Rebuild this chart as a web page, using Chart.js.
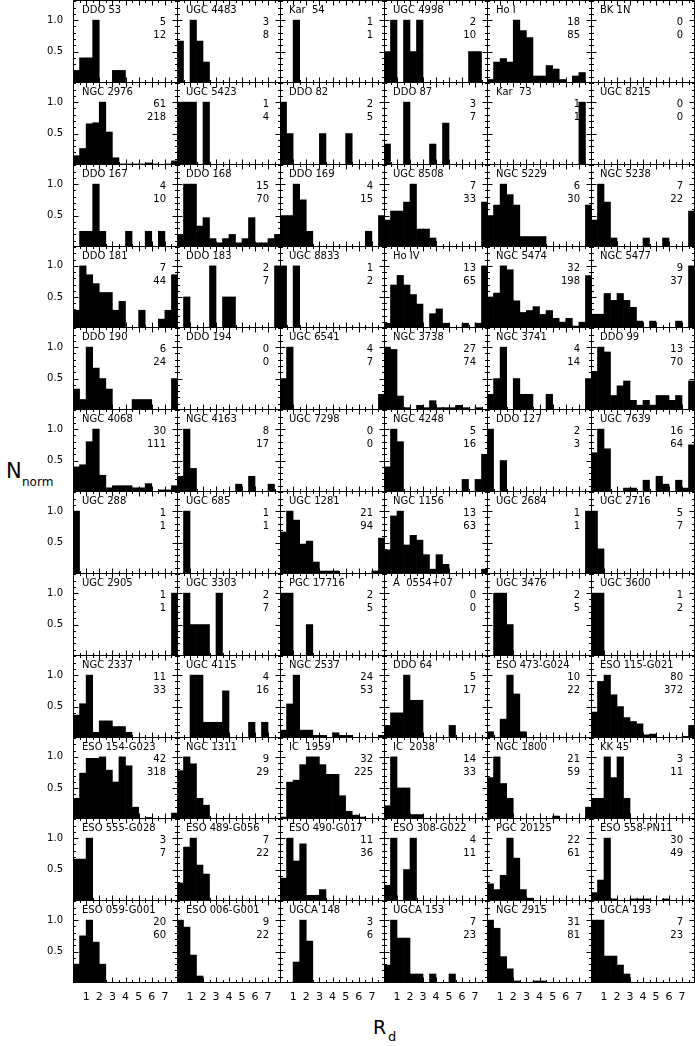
<!DOCTYPE html>
<html><head><meta charset="utf-8">
<script src="https://cdn.jsdelivr.net/npm/chart.js@4.4.1/dist/chart.umd.min.js"></script>
<style>
html,body{margin:0;padding:0;background:#fff;}
#wrap{position:relative;width:695px;height:1046px;overflow:hidden;background:#fff}
#wrap canvas{position:absolute}
.t{position:absolute;font-family:"DejaVu Sans",sans-serif;color:#000;white-space:pre;line-height:1}
</style></head>
<body><div id="wrap">
<div class="t" style="left:6px;top:461px;font-size:21px">N</div>
<div class="t" style="left:22px;top:476px;font-size:12px">norm</div>
<div class="t" style="left:373px;top:1018px;font-size:19px">R</div>
<div class="t" style="left:388px;top:1030px;font-size:13px">d</div>
</div>
<script>
// ---------------- data ----------------
const galaxyNames = [
 "DDO 53","UGC 4483","Kar  54","UGC 4998","Ho I","BK 1N",
 "NGC 2976","UGC 5423","DDO 82","DDO 87","Kar  73","UGC 8215",
 "DDO 167","DDO 168","DDO 169","UGC 8508","NGC 5229","NGC 5238",
 "DDO 181","DDO 183","UGC 8833","Ho IV","NGC 5474","NGC 5477",
 "DDO 190","DDO 194","UGC 6541","NGC 3738","NGC 3741","DDO 99",
 "NGC 4068","NGC 4163","UGC 7298","NGC 4248","DDO 127","UGC 7639",
 "UGC 288","UGC 685","UGC 1281","NGC 1156","UGC 2684","UGC 2716",
 "UGC 2905","UGC 3303","PGC 17716","A  0554+07","UGC 3476","UGC 3600",
 "NGC 2337","UGC 4115","NGC 2537","DDO 64","ESO 473-G024","ESO 115-G021",
 "ESO 154-G023","NGC 1311","IC  1959","IC  2038","NGC 1800","KK 45",
 "ESO 555-G028","ESO 489-G056","ESO 490-G017","ESO 308-G022","PGC 20125","ESO 558-PN11",
 "ESO 059-G001","ESO 006-G001","UGCA 148","UGCA 153","NGC 2915","UGCA 193"
];
const peakCounts = [
 5,3,1,2,18,0,
 61,1,2,3,1,0,
 4,15,4,7,6,7,
 7,2,1,13,32,9,
 6,0,4,27,4,13,
 30,8,0,5,2,16,
 1,1,21,13,1,5,
 1,2,2,0,2,1,
 11,4,24,5,10,80,
 42,9,32,14,21,3,
 3,7,11,4,22,30,
 20,9,3,7,31,7
];
const totalCounts = [
 12,8,1,10,85,0,
 218,4,5,7,1,0,
 10,70,15,33,30,22,
 44,7,2,65,198,37,
 24,0,7,74,14,70,
 111,17,0,16,3,64,
 1,1,94,63,1,7,
 1,7,5,0,5,2,
 33,16,53,17,22,372,
 318,29,225,33,59,11,
 7,22,36,11,61,49,
 60,22,6,23,81,23
];
const binCounts = [
 [1,2,2,5,0,0,1,1,0,0,0,0,0,0,0,0],
 [2,0,3,2,1,0,0,0,0,0,0,0,0,0,0,0],
 [0,0,1,0,0,0,0,0,0,0,0,0,0,0,0,0],
 [1,2,0,2,1,2,0,0,0,0,0,0,0,1,1,0],
 [1,6,7,6,18,15,13,2,2,5,4,1,0,2,3,0],
 [0,0,0,0,0,0,0,0,0,0,0,0,0,0,0,0],

 [9,16,40,41,61,32,7,1,1,1,1,2,1,0,1,4],
 [1,1,1,0,1,0,0,0,0,0,0,0,0,0,0,0],
 [2,1,0,0,0,0,1,0,0,0,1,0,0,0,0,0],
 [1,0,0,3,0,0,0,1,0,2,0,0,0,0,0,0],
 [0,0,0,0,0,0,0,0,0,0,0,0,0,0,1,0],
 [0,0,0,0,0,0,0,0,0,0,0,0,0,0,0,0],

 [0,1,1,4,1,0,0,0,1,0,0,1,0,1,0,0],
 [3,15,15,5,7,2,1,2,3,1,2,7,1,1,2,3],
 [2,2,4,3,1,0,0,0,0,0,0,0,0,1,0,2],
 [3,4,4,5,7,2,2,1,0,0,0,0,0,0,0,5],
 [3,4,6,5,4,1,1,1,1,0,0,0,0,0,0,4],
 [3,7,5,1,0,0,0,0,1,0,0,1,0,0,0,4],

 [2,7,6,5,4,4,2,3,0,0,2,0,0,1,2,6],
 [0,1,0,0,0,2,0,1,1,0,0,0,0,0,0,2],
 [1,0,1,0,0,0,0,0,0,0,0,0,0,0,0,0],
 [1,9,11,9,7,5,0,3,4,1,0,0,1,0,1,13],
 [16,18,32,30,14,8,9,11,7,9,5,3,5,1,3,27],
 [2,2,5,4,5,4,3,1,0,1,0,0,0,1,0,9],

 [2,1,6,4,3,2,0,0,0,1,1,1,0,0,0,3],
 [0,0,0,0,0,0,0,0,0,0,0,0,0,0,0,0],
 [2,4,0,0,0,0,0,0,0,0,0,0,0,0,0,1],
 [27,26,6,1,0,2,1,4,1,1,1,2,1,0,1,0],
 [1,2,4,0,2,1,1,0,0,1,0,0,0,0,0,2],
 [8,13,12,3,5,6,2,1,2,1,3,3,2,3,0,6],

 [12,13,24,30,8,2,3,3,3,2,2,4,0,1,1,3],
 [2,8,3,0,0,0,0,0,0,1,0,2,0,0,1,0],
 [0,0,0,0,0,0,0,0,0,0,0,0,0,0,0,0],
 [2,5,4,0,0,0,0,0,0,0,0,0,1,0,1,3],
 [2,0,1,0,0,0,0,0,0,0,0,0,0,0,0,0],
 [10,16,11,0,0,1,1,0,3,0,4,2,0,3,1,12],

 [1,0,0,0,0,0,0,0,0,0,0,0,0,0,0,0],
 [0,1,0,0,0,0,0,0,0,0,0,0,0,0,0,0],
 [14,21,18,10,11,4,1,1,1,0,0,0,0,0,1,12],
 [5,12,13,6,8,7,4,1,4,2,0,0,0,0,0,1],
 [0,0,0,0,0,0,0,0,0,0,0,0,0,0,0,1],
 [5,2,0,0,0,0,0,0,0,0,0,0,0,0,0,0],

 [0,0,0,0,0,0,0,0,0,0,0,0,0,0,0,1],
 [0,2,1,1,1,0,2,0,0,0,0,0,0,0,0,0],
 [2,2,0,0,1,0,0,0,0,0,0,0,0,0,0,0],
 [0,0,0,0,0,0,0,0,0,0,0,0,0,0,0,0],
 [0,2,2,1,0,0,0,0,0,0,0,0,0,0,0,0],
 [1,1,0,0,0,0,0,0,0,0,0,0,0,0,0,0],

 [4,6,11,1,3,3,2,2,1,0,0,0,0,0,0,0],
 [0,0,4,4,1,1,1,3,0,0,0,1,0,1,0,0],
 [3,13,24,3,3,1,1,0,2,1,1,0,0,0,0,1],
 [1,2,2,5,3,3,0,0,0,0,1,0,0,0,0,0],
 [1,0,3,10,7,1,0,0,0,0,0,0,0,0,0,0],
 [33,72,80,55,40,26,21,18,4,5,0,0,0,0,2,16],

 [14,31,41,41,42,33,25,42,36,8,0,1,0,0,0,4],
 [7,9,8,3,2,0,0,0,0,0,0,0,0,0,0,0],
 [1,19,20,28,32,32,28,23,23,12,4,2,1,0,0,0],
 [3,14,7,7,1,1,0,0,0,0,0,0,0,0,0,0],
 [14,21,12,7,0,0,0,0,0,0,1,0,0,0,0,4],
 [1,1,3,2,3,1,0,0,0,0,0,0,0,0,0,0],

 [2,2,3,0,0,0,0,0,0,0,0,0,0,0,0,0],
 [2,6,7,4,3,0,0,0,0,0,0,0,0,0,0,0],
 [4,11,7,10,1,1,2,0,0,0,0,0,0,0,0,0],
 [1,4,0,2,4,0,0,0,0,0,0,0,0,0,0,0],
 [6,4,9,22,15,4,1,0,0,0,0,0,0,0,0,0],
 [4,10,30,1,0,0,1,1,1,0,0,1,0,0,0,0],

 [6,15,20,13,6,0,0,0,0,0,0,0,0,0,0,0],
 [9,8,4,1,0,0,0,0,0,0,0,0,0,0,0,0],
 [0,0,1,3,2,0,0,0,0,0,0,0,0,0,0,0],
 [2,7,5,5,1,1,0,1,0,0,1,0,0,0,0,0],
 [31,27,13,7,1,0,0,1,1,0,0,0,0,0,0,0],
 [7,7,3,3,2,1,0,0,0,0,0,0,0,0,0,0]
];
const binCenters = [0.25,0.75,1.25,1.75,2.25,2.75,3.25,3.75,4.25,4.75,5.25,5.75,6.25,6.75,7.25,7.75];
const xTickValues = [1,2,3,4,5,6,7];
const xTickLabels = ["1","2","3","4","5","6","7"];
const yTickValues = [0.5,1.0];
const yTickLabels = ["0.5","1.0"];
const xMinorValues = [0.5,1,1.5,2,2.5,3,3.5,4,4.5,5,5.5,6,6.5,7,7.5];
const yMinorValues = [0.1,0.2,0.3,0.4,0.5,0.6,0.7,0.8,0.9,1.0,1.1,1.2,1.3];

// ---------------- layout ----------------
const X_MIN = 0, X_MAX = 8, Y_MAX = 1.32;
const GRID_LEFT = 73, GRID_RIGHT = 694, GRID_TOP = 0, GRID_BOTTOM = 982;
const NCOL = 6, NROW = 12;
const YAXIS_W = 36, XAXIS_H = 24;
const FONT = '"DejaVu Sans", sans-serif';

Chart.defaults.font.family = FONT;
Chart.defaults.color = '#000';

const colEdge = [], rowEdge = [];
for (let i = 0; i <= NCOL; i++) colEdge.push(Math.round(GRID_LEFT + i * (GRID_RIGHT - GRID_LEFT) / NCOL));
for (let j = 0; j <= NROW; j++) rowEdge.push(Math.round(GRID_TOP + j * (GRID_BOTTOM - GRID_TOP) / NROW));

const panelPlugin = {
  id: 'panelFrame',
  afterDatasetsDraw(chart, args, opts) {
    const {ctx, chartArea: a, scales: {x, y}} = chart;
    const L = Math.floor(a.left) + 0.5, R = Math.ceil(a.right) - 0.5;
    const T = Math.floor(a.top) + 0.5, B = Math.ceil(a.bottom) - 0.5;
    ctx.save();
    ctx.strokeStyle = '#000';
    ctx.lineWidth = 1;
    ctx.beginPath();
    ctx.rect(L, T, R - L, B - T);
    xMinorValues.forEach(v => {
      const px = Math.round(x.getPixelForValue(v)) + 0.5;
      const len = Number.isInteger(v) ? 5 : 2.5;
      ctx.moveTo(px, B); ctx.lineTo(px, B - len);
      ctx.moveTo(px, T); ctx.lineTo(px, T + len);
    });
    yMinorValues.forEach(v => {
      const py = Math.round(y.getPixelForValue(v)) + 0.5;
      if (py < T + 1) return;
      const len = yTickValues.some(t => Math.abs(t - v) < 1e-9) ? 5 : 2.5;
      ctx.moveTo(L, py); ctx.lineTo(L + len, py);
      ctx.moveTo(R, py); ctx.lineTo(R - len, py);
    });
    ctx.stroke();
    ctx.fillStyle = '#000';
    ctx.font = '10px ' + FONT;
    ctx.textBaseline = 'middle';
    ctx.textAlign = 'left';
    ctx.fillText(opts.name, a.left + 9, a.top + 10);
    ctx.textAlign = 'right';
    ctx.fillText(String(opts.peak), a.right - 12, a.top + 22);
    ctx.fillText(String(opts.total), a.right - 12, a.top + 35);
    ctx.restore();
  }
};

const zeroPad = s => { s.paddingTop = 0; s.paddingBottom = 0; s.paddingLeft = 0; s.paddingRight = 0; };

const wrap = document.getElementById('wrap');

galaxyNames.forEach((name, k) => {
  const r = Math.floor(k / NCOL), c = k % NCOL;
  const showY = c === 0, showX = r === NROW - 1;
  let left = colEdge[c], top = rowEdge[r];
  let w = colEdge[c + 1] - colEdge[c] + 1, h = rowEdge[r + 1] - rowEdge[r] + 1;
  if (showY) { left -= YAXIS_W; w += YAXIS_W; }
  if (showX) { h += XAXIS_H; }
  const cv = document.createElement('canvas');
  cv.width = w; cv.height = h;
  cv.style.left = left + 'px'; cv.style.top = top + 'px';
  cv.style.width = w + 'px'; cv.style.height = h + 'px';
  wrap.appendChild(cv);

  const peak = peakCounts[k];
  const values = binCounts[k].map((n, i) => ({x: binCenters[i], y: peak > 0 ? n / peak : 0}));

  new Chart(cv, {
    type: 'bar',
    data: {
      datasets: [{
        data: values,
        backgroundColor: '#000',
        borderWidth: 0,
        barPercentage: 1,
        categoryPercentage: 1
      }]
    },
    options: {
      responsive: false,
      animation: false,
      devicePixelRatio: 1,
      events: [],
      layout: {padding: 0, autoPadding: false},
      plugins: {
        legend: {display: false},
        tooltip: {enabled: false},
        panelFrame: {name: name, peak: peak, total: totalCounts[k]}
      },
      scales: {
        x: {
          type: 'linear', min: X_MIN, max: X_MAX, offset: false,
          display: showX,
          grid: {display: false, drawTicks: false, offset: false},
          border: {display: false},
          afterBuildTicks: s => { s.ticks = xTickValues.map(v => ({value: v})); },
          afterFit: s => { s.height = showX ? XAXIS_H : 0; zeroPad(s); },
          ticks: {
            autoSkip: false, maxRotation: 0, padding: 8,
            font: {size: 11, family: FONT}, color: '#000',
            callback: (v) => { const i = xTickValues.indexOf(v); return i >= 0 ? xTickLabels[i] : ''; }
          }
        },
        y: {
          type: 'linear', min: 0, max: Y_MAX,
          display: showY,
          grid: {display: false, drawTicks: false},
          border: {display: false},
          afterBuildTicks: s => { s.ticks = yTickValues.map(v => ({value: v})); },
          afterFit: s => { s.width = showY ? YAXIS_W : 0; zeroPad(s); },
          ticks: {
            padding: 10,
            font: {size: 10, family: FONT}, color: '#000',
            callback: (v) => { const i = yTickValues.indexOf(v); return i >= 0 ? yTickLabels[i] : ''; }
          }
        }
      }
    },
    plugins: [panelPlugin]
  });
});
</script></body></html>
